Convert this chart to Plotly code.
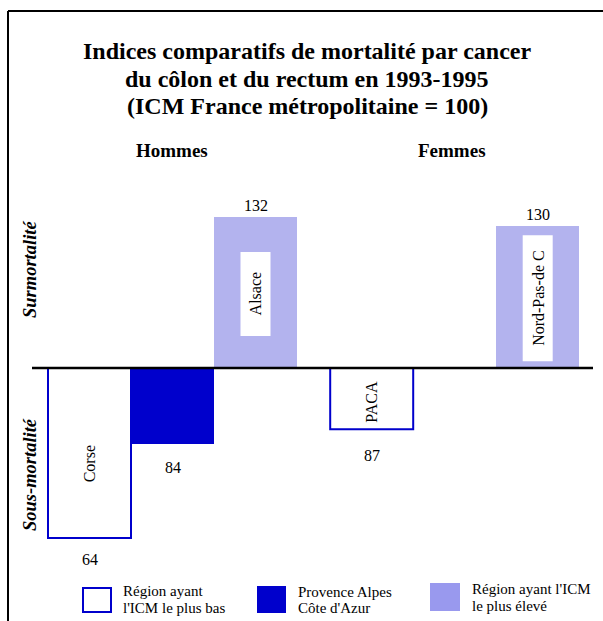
import plotly.graph_objects as go

# ---- data ----
title_lines = ["Indices comparatifs de mortalité par cancer",
               "du côlon et du rectum en 1993-1995",
               "(ICM France métropolitaine = 100)"]
groups = ["Hommes", "Femmes"]
slot_pos = [0, 1, 2, 3.4, 4.4, 5.4]
bar_kind = ["low", "paca", "high", "low", "paca", "high"]
bar_values = [64, 84, 132, 87, None, 130]
bar_regions = ["Corse", "", "Alsace", "PACA", "", "Nord-Pas-de C"]
reference = 100
legend_line1 = ["Région ayant", "Provence Alpes", "Région ayant l'ICM"]
legend_line2 = ["l'ICM le plus bas", "Côte d'Azur", "le plus élevé"]
side_labels = ["Surmortalité", "Sous-mortalité"]

W, H = 603, 621
BLUE = "#0000CC"
LIGHT = "#B3B3EE"
LEG_LIGHT = "#9999EE"
FONT = "Liberation Serif, Times New Roman, serif"

# axis scale (pixels)
px_per_unit = 4.72
y_base_px = 368
slot_px = 83
x0_px = 89.5
yr = [reference - (H - y_base_px) / px_per_unit, reference + y_base_px / px_per_unit]
xr = [-x0_px / slot_px, (W - x0_px) / slot_px]

def px(x):
    return x / W

def py(y):
    return 1 - y / H

fig = go.Figure()

fill = {"low": "white", "paca": BLUE, "high": LIGHT}
line_c = {"low": BLUE, "paca": BLUE, "high": LIGHT}
line_w = {"low": 2, "paca": 0, "high": 0}

for kind in ["low", "paca", "high"]:
    xs = [slot_pos[i] for i in range(6) if bar_kind[i] == kind and bar_values[i] is not None]
    vs = [bar_values[i] for i in range(6) if bar_kind[i] == kind and bar_values[i] is not None]
    fig.add_trace(go.Bar(
        x=xs, y=[v - reference for v in vs], base=[reference] * len(vs),
        width=1.0, marker=dict(color=fill[kind], line=dict(color=line_c[kind], width=line_w[kind])),
        showlegend=False, hoverinfo="skip"))

annotations = []
shapes = []

label_shift_below = {64: -11, 84: -13, 87: -16}

# value labels and region labels
for i in range(6):
    v = bar_values[i]
    if v is None:
        continue
    if v >= reference:
        annotations.append(dict(x=slot_pos[i], y=v, xref="x", yref="y", text=str(v),
                                showarrow=False, xanchor="center", yanchor="bottom", yshift=1,
                                font=dict(family=FONT, size=16, color="black")))
    else:
        annotations.append(dict(x=slot_pos[i], y=v, xref="x", yref="y", text=str(v),
                                showarrow=False, xanchor="center", yanchor="top",
                                yshift=label_shift_below.get(v, -13),
                                font=dict(family=FONT, size=16, color="black")))
    name = bar_regions[i]
    if not name:
        continue
    if bar_kind[i] == "high":
        half_w = 15 / slot_px
        if v > 131:
            yc, hh = 115.7, 42
        else:
            yc, hh = 114.8, 63
        shapes.append(dict(type="rect", xref="x", yref="y",
                           x0=slot_pos[i] - half_w, x1=slot_pos[i] + half_w,
                           y0=yc - hh / px_per_unit, y1=yc + hh / px_per_unit,
                           fillcolor="white", line=dict(width=0), layer="above"))
        annotations.append(dict(x=slot_pos[i], y=yc, xref="x", yref="y", text=name,
                                showarrow=False, textangle=-90, xanchor="center", yanchor="middle",
                                font=dict(family=FONT, size=16, color="black")))
    else:
        yc = 79.7 if v < 70 else 92.8
        annotations.append(dict(x=slot_pos[i], y=yc, xref="x", yref="y", text=name,
                                showarrow=False, textangle=-90, xanchor="center", yanchor="middle",
                                font=dict(family=FONT, size=16, color="black")))

# baseline
shapes.append(dict(type="line", xref="paper", yref="y", x0=px(32), x1=px(593),
                   y0=reference, y1=reference, line=dict(color="black", width=2.5), layer="above"))

# frame
shapes.append(dict(type="line", xref="paper", yref="paper", x0=px(8), x1=px(603),
                   y0=py(11), y1=py(11), line=dict(color="black", width=2)))
shapes.append(dict(type="line", xref="paper", yref="paper", x0=px(8), x1=px(8),
                   y0=py(11), y1=py(621), line=dict(color="black", width=2)))

# title
for k, t in enumerate(title_lines):
    annotations.append(dict(x=px(307), y=py(51 + 27.5 * k), xref="paper", yref="paper",
                            text="<b>" + t + "</b>", showarrow=False,
                            xanchor="center", yanchor="middle",
                            font=dict(family=FONT, size=24, color="black")))

# group labels
for g, xc in zip(groups, [171.5, 452]):
    annotations.append(dict(x=px(xc), y=py(151), xref="paper", yref="paper",
                            text="<b>" + g + "</b>", showarrow=False,
                            xanchor="center", yanchor="middle",
                            font=dict(family=FONT, size=19, color="black")))

# side labels
for s, yc in zip(side_labels, [270, 475]):
    annotations.append(dict(x=px(30), y=py(yc), xref="paper", yref="paper",
                            text="<b><i>" + s + "</i></b>", showarrow=False, textangle=-90,
                            xanchor="center", yanchor="middle",
                            font=dict(family=FONT, size=18.5, color="black")))

# legend
leg_boxes = [(83, 111, 588, 612, "white", BLUE, 2),
             (257, 286, 586, 613, BLUE, BLUE, 0),
             (430, 460, 583, 611, LEG_LIGHT, LEG_LIGHT, 0)]
leg_text_x = [122, 297, 471]
leg_base1 = [596, 596.5, 594]
leg_gap = 16.8
for (xa, xb, ya, yb, fc, lc, lw), l1, l2, tx, b1 in zip(
        leg_boxes, legend_line1, legend_line2, leg_text_x, leg_base1):
    shapes.append(dict(type="rect", xref="paper", yref="paper", x0=px(xa), x1=px(xb),
                       y0=py(yb), y1=py(ya), fillcolor=fc, line=dict(color=lc, width=lw)))
    for lab, b in ((l1, b1), (l2, b1 + leg_gap)):
        annotations.append(dict(x=px(tx), y=py(b - 5.0), xref="paper", yref="paper", text=lab,
                                showarrow=False, xanchor="left", yanchor="middle", align="left",
                                borderpad=0,
                                font=dict(family=FONT, size=15, color="black")))

fig.update_layout(
    width=W, height=H, margin=dict(l=0, r=0, t=0, b=0),
    paper_bgcolor="white", plot_bgcolor="white",
    xaxis=dict(range=xr, visible=False, fixedrange=True),
    yaxis=dict(range=yr, visible=False, fixedrange=True),
    bargap=0, shapes=shapes, annotations=annotations, showlegend=False)

fig.write_html("out.html", config={"staticPlot": True},
               post_script="document.body.style.margin='0';document.body.style.overflow='hidden';")
